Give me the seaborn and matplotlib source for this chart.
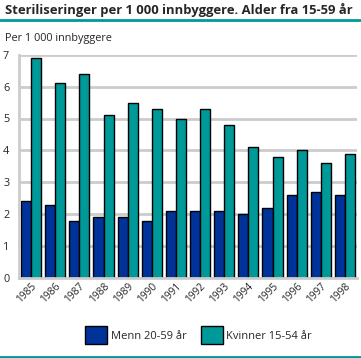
import matplotlib
matplotlib.use("Agg")
import matplotlib.pyplot as plt
import seaborn as sns
import pandas as pd
from matplotlib.lines import Line2D
from matplotlib.patches import Patch

years = ["1985", "1986", "1987", "1988", "1989", "1990", "1991",
         "1992", "1993", "1994", "1995", "1996", "1997", "1998"]
menn = [2.4, 2.3, 1.8, 1.9, 1.9, 1.8, 2.1, 2.1, 2.1, 2.0, 2.2, 2.6, 2.7, 2.6]
kvinner = [6.9, 6.1, 6.4, 5.1, 5.5, 5.3, 5.0, 5.3, 4.8, 4.1, 3.8, 4.0, 3.6, 3.9]
series = ["Menn 20-59 år", "Kvinner 15-54 år"]
colors = ["#003399", "#009999"]

df = pd.DataFrame({
    "År": years * 2,
    "Verdi": menn + kvinner,
    "Gruppe": [series[0]] * len(years) + [series[1]] * len(years),
})

sns.set_style("white")
plt.rcParams["font.family"] = ["Open Sans", "DejaVu Sans"]

fig = plt.figure(figsize=(3.61, 3.58), dpi=100)
ax = fig.add_axes([19 / 361, 80 / 358, 338 / 361, 223.3 / 358])

sns.barplot(data=df, x="År", y="Verdi", hue="Gruppe", palette=colors,
            edgecolor="black", linewidth=1.0, width=0.84, ax=ax, legend=False,
            saturation=1)

ax.set_ylim(0, 7)
ax.set_xlim(-0.5, len(years) - 0.5)
ax.set_yticks(range(0, 8))
ax.yaxis.grid(True, color="#cccccc", linewidth=2)
ax.set_axisbelow(True)
for s in ["top", "right"]:
    ax.spines[s].set_visible(False)
for s in ["left", "bottom"]:
    ax.spines[s].set_color("#cccccc")
    ax.spines[s].set_linewidth(2)
ax.set_xlabel("")
ax.set_ylabel("")
ax.tick_params(axis="y", length=0, labelsize=7.8, pad=7)
ax.tick_params(axis="x", length=0, labelsize=7.4, pad=2)
ax.set_xticks(range(len(years)))
ax.set_xticklabels(years, rotation=45, ha="right", rotation_mode="anchor")
ax.set_xticks([i + 0.5 for i in range(len(years))], minor=True)
ax.tick_params(axis="x", which="minor", length=4, width=2, color="#cccccc")

fig.text(5 / 361, 1 - 10 / 358, "Steriliseringer per 1 000 innbyggere. Alder fra 15-59 år",
         fontsize=9.4, fontweight="bold", va="center", ha="left")
fig.add_artist(Line2D([0, 1], [1 - 20 / 358] * 2, color="#009999", linewidth=2,
                      transform=fig.transFigure))
fig.add_artist(Line2D([0, 1], [1 / 358] * 2, color="#009999", linewidth=2,
                      transform=fig.transFigure))
fig.text(5 / 361, 1 - 38 / 358, "Per 1 000 innbyggere", fontsize=7.8,
         va="center", ha="left")

handles = [Patch(facecolor=c, edgecolor="black", linewidth=1) for c in colors]
fig.legend(handles, series, loc="center", bbox_to_anchor=(198.5 / 361, 1 - 335 / 358),
           ncol=2, frameon=False, fontsize=8, handlelength=2.0, handleheight=2.0,
           handletextpad=0.3, columnspacing=1.3)

fig.savefig("out.png", dpi=100)
